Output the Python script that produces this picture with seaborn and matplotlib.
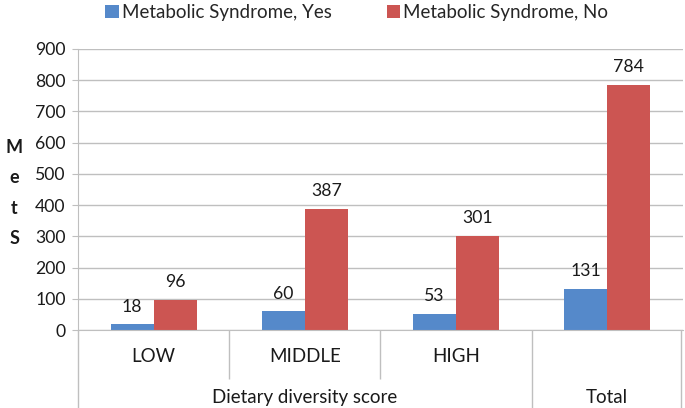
import pandas as pd
import matplotlib
matplotlib.use("Agg")
import matplotlib.pyplot as plt
import seaborn as sns

# chart data
levels = ["LOW", "MIDDLE", "HIGH", "Total"]
mets_yes = [18, 60, 53, 131]
mets_no = [96, 387, 301, 784]
series_names = ["Metabolic Syndrome, Yes", "Metabolic Syndrome, No"]
group_labels = ["Dietary diversity score", "Total"]

df = pd.DataFrame({
    "level": levels * 2,
    "count": mets_yes + mets_no,
    "status": [series_names[0]] * 4 + [series_names[1]] * 4,
})

sns.set_style("white")
plt.rcParams["font.family"] = ["Lato", "DejaVu Sans"]

grid_col = "#BFBFBF"
text_col = "#1a1a1a"
colors = ["#5589CA", "#CC5552"]
num_fs = 12.7
word_fs = 13.5

fig = plt.figure(figsize=(6.85, 4.08), dpi=100)
ax = fig.add_axes([0.1139, 0.191, 0.883, 0.689])

sns.barplot(data=df, x="level", y="count", hue="status", order=levels,
            hue_order=series_names, palette=colors, width=0.57, ax=ax,
            saturation=1, edgecolor="none", legend=True)

for c in ax.containers:
    ax.bar_label(c, padding=7, fontsize=num_fs, color=text_col)

ax.set_ylim(0, 900)
ax.set_xlim(-0.5, 3.5)
ax.set_yticks(range(0, 901, 100))
ax.yaxis.grid(True, color=grid_col, lw=1)
ax.set_axisbelow(True)
ax.tick_params(axis="y", left=True, length=4, color=grid_col, labelsize=num_fs,
               labelcolor=text_col, pad=5)
for s in ["top", "right"]:
    ax.spines[s].set_visible(False)
for s in ["left", "bottom"]:
    ax.spines[s].set_color(grid_col)
ax.set_xlabel("")
ax.set_ylabel("")

# two-level category axis
ax.set_xticks([-0.5, 2.5, 3.49])
ax.set_xticklabels([])
ax.set_xticks([0.5, 1.5], minor=True)
ax.tick_params(axis="x", which="both", bottom=True)
ax.tick_params(axis="x", which="major", length=56, color=grid_col, width=1)
ax.tick_params(axis="x", which="minor", length=35, color=grid_col, width=1)
trans = ax.get_xaxis_transform()
for i, lab in enumerate(levels[:3]):
    ax.text(i, -0.095, lab, transform=trans, ha="center", va="center",
            fontsize=word_fs, color=text_col)
ax.text(1, -0.24, group_labels[0], transform=trans, ha="center", va="center",
        fontsize=word_fs, color=text_col)
ax.text(3, -0.24, group_labels[1], transform=trans, ha="center", va="center",
        fontsize=word_fs, color=text_col)

# stacked y label
fig.text(0.021, 0.527, "M\ne\nt\nS", ha="center", va="center", fontsize=13,
         fontweight="bold", color=text_col, linespacing=1.95)

ax.legend(loc="center", bbox_to_anchor=(0.521, 0.97), bbox_transform=fig.transFigure,
          ncol=2, frameon=False, fontsize=word_fs, handlelength=0.7,
          handleheight=0.7, handletextpad=0.2, columnspacing=2.9)

fig.savefig("out.png", dpi=100)
